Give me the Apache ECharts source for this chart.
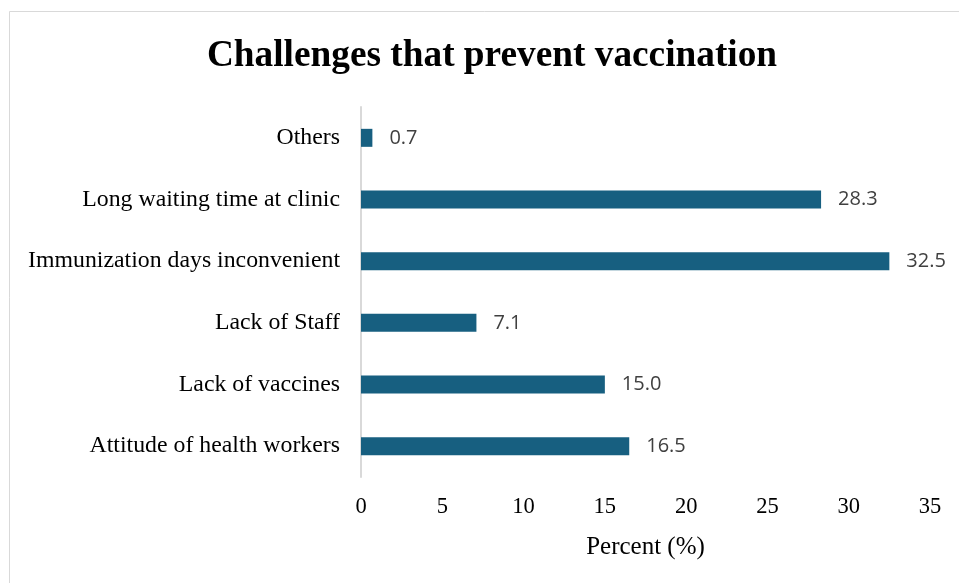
<!DOCTYPE html>
<html>
<head>
<meta charset="utf-8">
<script src="https://cdn.jsdelivr.net/npm/echarts@6/dist/echarts.min.js"></script>
<style>
  html, body { margin: 0; padding: 0; background: #ffffff; }
  #chart { width: 959px; height: 583px; }
</style>
</head>
<body>
<div id="chart"></div>
<script>
// Challenges reported, listed bottom-to-top on the category axis
const categories = [
  'Attitude of health workers',
  'Lack of vaccines',
  'Lack of Staff',
  'Immunization days inconvenient',
  'Long waiting time at clinic',
  'Others'
];
const percentValues = [16.5, 15.0, 7.1, 32.5, 28.3, 0.7];
const xTicks = [0, 5, 10, 15, 20, 25, 30, 35];

const chart = echarts.init(document.getElementById('chart'), null, { renderer: 'canvas' });

const serif = '"Liberation Serif", "Times New Roman", serif';

chart.setOption({
  animation: false,
  backgroundColor: '#ffffff',
  graphic: [{
    type: 'rect',
    shape: { x: 9.5, y: 11.5, width: 1000, height: 1000 },
    style: { fill: 'none', stroke: '#d9d9d9', lineWidth: 1 },
    silent: true
  }],
  title: {
    text: 'Challenges that prevent vaccination',
    left: 487,
    textAlign: 'center',
    top: 33,
    textStyle: { fontFamily: serif, fontWeight: 'bold', fontSize: 37.3, color: '#000000' }
  },
  grid: { left: 361, right: 29, top: 107, bottom: 106, containLabel: false },
  xAxis: {
    type: 'value',
    min: xTicks[0],
    max: xTicks[xTicks.length - 1],
    interval: 5,
    name: 'Percent (%)',
    nameLocation: 'middle',
    nameGap: 58,
    nameTextStyle: { fontFamily: serif, fontSize: 25, color: '#000000' },
    axisLine: { show: false },
    axisTick: { show: false },
    splitLine: { show: false },
    axisLabel: {
      fontFamily: serif, fontSize: 22.5, color: '#000000', margin: 19,
      formatter: v => xTicks.includes(v) ? String(v) : ''
    }
  },
  yAxis: {
    type: 'category',
    data: categories,
    axisLine: { show: true, lineStyle: { color: '#d9d9d9', width: 2 } },
    axisTick: { show: false },
    axisLabel: {
      fontFamily: serif, fontSize: 23.8, color: '#000000', margin: 21,
      padding: [4, 0, 0, 0]
    }
  },
  series: [{
    type: 'bar',
    data: percentValues,
    barWidth: 18,
    itemStyle: { color: '#175f80' },
    label: {
      show: true,
      position: 'right',
      distance: 17,
      formatter: p => p.value.toFixed(1),
      fontFamily: '"Open Sans", "Noto Sans", sans-serif',
      fontSize: 20,
      color: '#404040'
    }
  }]
});
</script>
</body>
</html>
